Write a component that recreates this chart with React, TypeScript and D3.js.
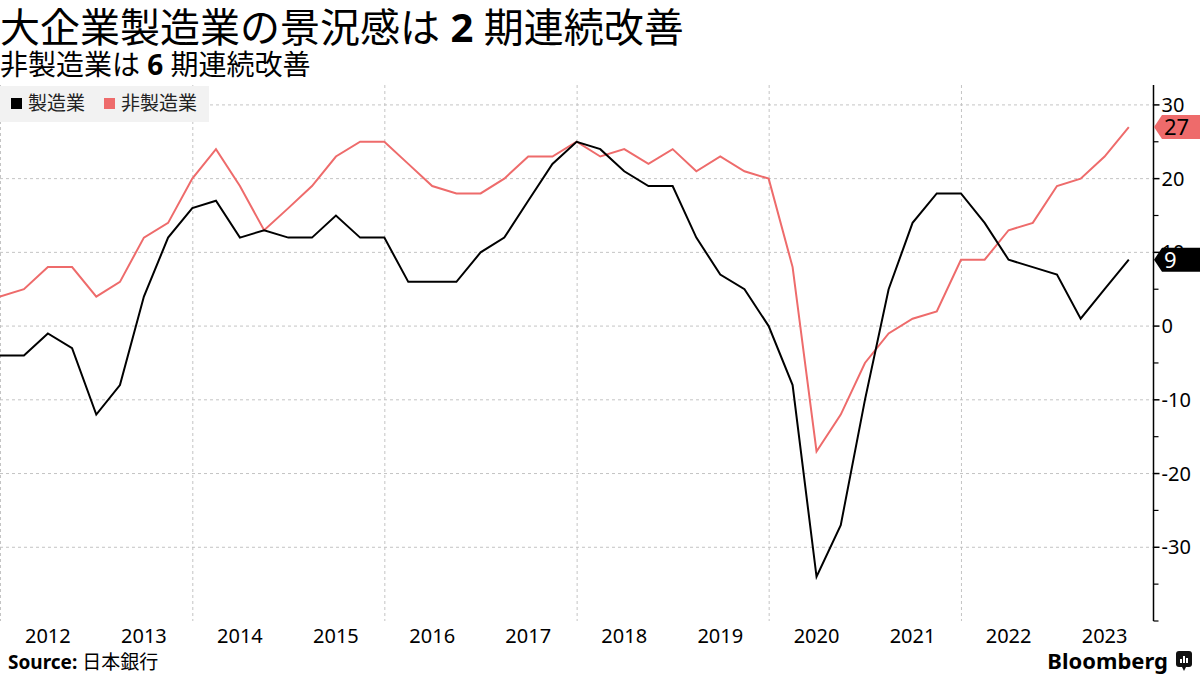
import React, { useEffect, useRef } from 'react';
import * as d3 from 'd3';

// 日銀短観 大企業 業況判断DI (2011年12月調査〜2023年9月調査)
const manufacturing = [
  -4, -4, -1, -3, -12, -8, 4, 12, 16, 17, 12, 13, 12, 12, 15, 12, 12, 6, 6, 6,
  10, 12, 17, 22, 25, 24, 21, 19, 19, 12, 7, 5, 0, -8, -34, -27, -10, 5, 14, 18,
  18, 14, 9, 8, 7, 1, 5, 9,
];
const nonManufacturing = [
  4, 5, 8, 8, 4, 6, 12, 14, 20, 24, 19, 13, 16, 19, 23, 25, 25, 22, 19, 18,
  18, 20, 23, 23, 25, 23, 24, 22, 24, 21, 23, 21, 20, 8, -17, -12, -5, -1, 1, 2,
  9, 9, 13, 14, 19, 20, 23, 27,
];
const years = [2012, 2013, 2014, 2015, 2016, 2017, 2018, 2019, 2020, 2021, 2022, 2023];
const gridYears = [2012, 2014, 2016, 2018, 2020, 2022];
const yTicks = [30, 20, 10, 0, -10, -20, -30];
const yMinorTicks = [25, 15, 5, -5, -15, -25, -35, -40];

const BLACK = '#000000';
const PINK = '#ee6b6b';
const FONT = '"Noto Sans", "Noto Sans CJK JP", sans-serif';

export default function App() {
  const svgRef = useRef<SVGSVGElement>(null);

  useEffect(() => {
    if (!svgRef.current) return;
    const svg = d3.select(svgRef.current);
    svg.selectAll('*').remove();

    const plot = { left: 0, right: 1153, top: 85, bottom: 621 };

    const x = d3.scaleTime()
      .domain([new Date(2012, 0, 1), new Date(2024, 0, 1)])
      .range([plot.left, plot.right]);
    const y = d3.scaleLinear().domain([-40, 32.7]).range([plot.bottom, plot.top]);

    const start = new Date(2012, 0, 1);
    const dateAt = (i: number) => d3.timeMonth.offset(start, 3 * i);

    // grid
    const grid = svg.append('g');
    grid.selectAll('line.h')
      .data(yTicks)
      .join('line')
      .attr('x1', plot.left)
      .attr('x2', plot.right)
      .attr('y1', d => y(d))
      .attr('y2', d => y(d))
      .attr('stroke', '#c4c4c4')
      .attr('stroke-dasharray', '3,3');
    grid.selectAll('line.v')
      .data(gridYears)
      .join('line')
      .attr('x1', d => Math.max(0.5, x(new Date(d, 0, 1)) + 0.5))
      .attr('x2', d => Math.max(0.5, x(new Date(d, 0, 1)) + 0.5))
      .attr('y1', plot.top)
      .attr('y2', plot.bottom)
      .attr('stroke', '#c4c4c4')
      .attr('stroke-dasharray', '3,3');

    // legend
    const legend = svg.append('g');
    legend.append('rect')
      .attr('x', 0).attr('y', 86).attr('width', 209).attr('height', 36)
      .attr('fill', '#f2f2f2');
    legend.append('rect').attr('x', 11).attr('y', 98).attr('width', 11).attr('height', 11).attr('fill', BLACK);
    legend.append('text').attr('x', 28).attr('y', 110).text('製造業')
      .attr('font-size', 19).attr('font-family', FONT).attr('fill', '#222');
    legend.append('rect').attr('x', 104).attr('y', 98).attr('width', 11).attr('height', 11).attr('fill', PINK);
    legend.append('text').attr('x', 121).attr('y', 110).text('非製造業')
      .attr('font-size', 19).attr('font-family', FONT).attr('fill', '#222');

    // lines
    const line = d3.line<number>()
      .x((_, i) => x(dateAt(i)))
      .y(d => y(d));
    svg.append('path')
      .datum(nonManufacturing)
      .attr('fill', 'none')
      .attr('stroke', PINK)
      .attr('stroke-width', 2)
      .attr('d', line);
    svg.append('path')
      .datum(manufacturing)
      .attr('fill', 'none')
      .attr('stroke', BLACK)
      .attr('stroke-width', 2)
      .attr('d', line);

    // right axis
    const axis = svg.append('g').attr('transform', `translate(${plot.right + 0.5},0)`);
    axis.append('line')
      .attr('x1', 0).attr('x2', 0).attr('y1', plot.top).attr('y2', plot.bottom)
      .attr('stroke', BLACK).attr('stroke-width', 1.5);
    axis.selectAll('line.minor')
      .data(yMinorTicks)
      .join('line')
      .attr('x1', 0).attr('x2', 5)
      .attr('y1', d => y(d)).attr('y2', d => y(d))
      .attr('stroke', BLACK).attr('stroke-width', 1.2);
    axis.selectAll('line.major')
      .data(yTicks)
      .join('line')
      .attr('x1', 0).attr('x2', 6)
      .attr('y1', d => y(d)).attr('y2', d => y(d))
      .attr('stroke', BLACK).attr('stroke-width', 1.5);
    axis.selectAll('text')
      .data(yTicks)
      .join('text')
      .attr('x', 8)
      .attr('y', d => y(d) + 7)
      .attr('font-size', 20)
      .attr('font-family', FONT)
      .attr('fill', BLACK)
      .text(d => (d < 0 ? `-${Math.abs(d)}` : `${d}`));

    // last value tags
    const tags = [
      { v: nonManufacturing[nonManufacturing.length - 1], fill: PINK, text: BLACK },
      { v: manufacturing[manufacturing.length - 1], fill: BLACK, text: '#ffffff' },
    ];
    tags.forEach(t => {
      const cy = y(t.v);
      const h = 12;
      const x0 = plot.right + 1;
      svg.append('path')
        .attr('d', `M${x0},${cy} L${x0 + 8},${cy - h} L1200,${cy - h} L1200,${cy + h} L${x0 + 8},${cy + h} Z`)
        .attr('fill', t.fill);
      svg.append('text')
        .attr('x', x0 + 10)
        .attr('y', cy + 8)
        .attr('font-size', 22)
        .attr('font-family', FONT)
        .attr('fill', t.text)
        .text(t.v);
    });

    // x labels
    svg.append('g')
      .selectAll('text')
      .data(years)
      .join('text')
      .attr('x', d => x(new Date(d, 6, 1)))
      .attr('y', 643)
      .attr('text-anchor', 'middle')
      .attr('font-size', 20)
      .attr('font-family', FONT)
      .attr('fill', BLACK)
      .text(d => d);

    // titles
    const title = svg.append('text').attr('x', 0).attr('y', 42)
      .attr('font-family', FONT).attr('font-size', 40).attr('fill', BLACK);
    title.append('tspan').text('大企業製造業の景況感は ');
    title.append('tspan').attr('font-weight', 'bold').text('2');
    title.append('tspan').text(' 期連続改善');

    const sub = svg.append('text').attr('x', 0).attr('y', 75)
      .attr('font-family', FONT).attr('font-size', 28).attr('fill', BLACK);
    sub.append('tspan').text('非製造業は ');
    sub.append('tspan').attr('font-weight', 'bold').text('6');
    sub.append('tspan').text(' 期連続改善');

    // footer
    const src = svg.append('text').attr('x', 8).attr('y', 669)
      .attr('font-family', FONT).attr('font-size', 19).attr('fill', BLACK);
    src.append('tspan').attr('font-weight', 'bold').text('Source: ');
    src.append('tspan').text('日本銀行');

    svg.append('text').attr('x', 1168).attr('y', 669)
      .attr('text-anchor', 'end')
      .attr('font-family', FONT).attr('font-size', 22).attr('font-weight', 'bold')
      .attr('fill', BLACK).text('Bloomberg');
    const logo = svg.append('g').attr('transform', 'translate(1176,651)');
    logo.append('rect').attr('width', 16).attr('height', 16).attr('rx', 3).attr('fill', '#111');
    logo.append('path').attr('d', 'M6,16 L8,20 L10,16 Z').attr('fill', '#111');
    [[4, 8], [7, 5], [10, 7]].forEach(([bx, by]) => {
      logo.append('rect').attr('x', bx).attr('y', by).attr('width', 2).attr('height', 12 - by)
        .attr('fill', '#fff');
    });
  }, []);

  return (
    <div style={{ width: 1200, height: 675, background: '#fff' }}>
      <style>{'body{margin:0}'}</style>
      <svg ref={svgRef} width={1200} height={675} style={{ display: 'block' }}></svg>
    </div>
  );
}
